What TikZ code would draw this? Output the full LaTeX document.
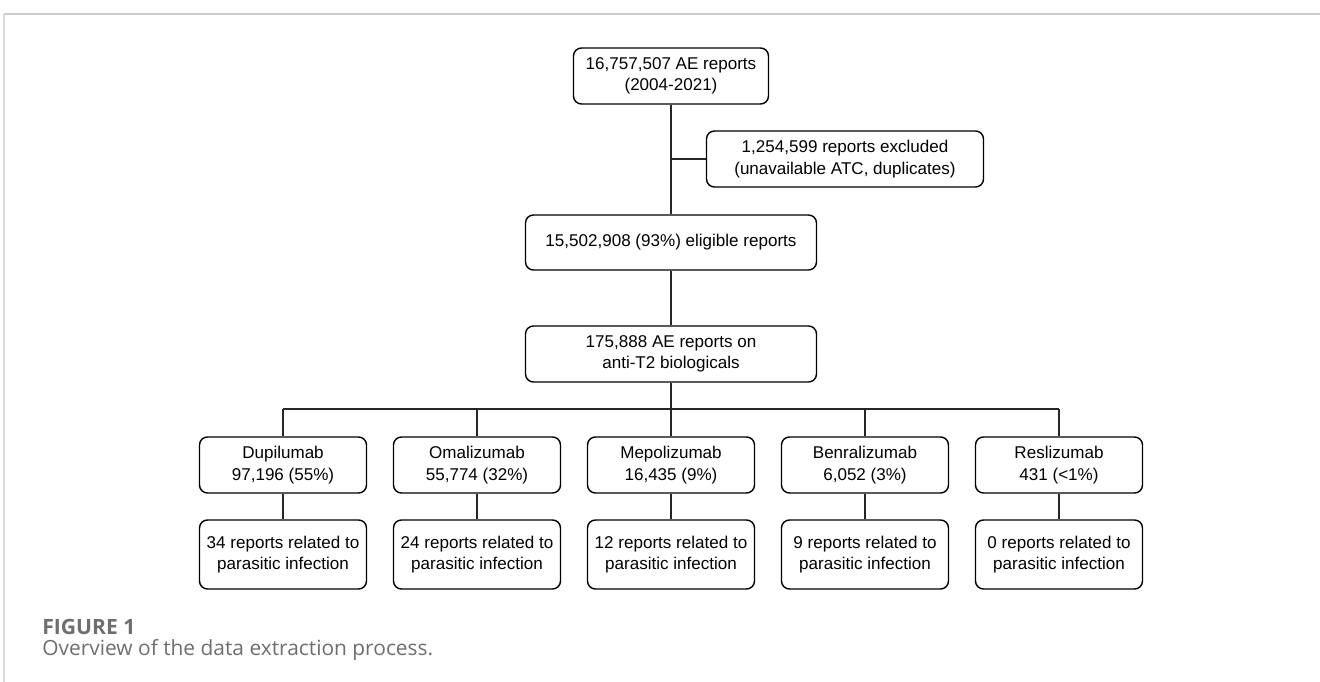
\documentclass[tikz,border=0pt]{standalone}
\usepackage{fontspec}
\setmainfont{Liberation Sans}
\newfontfamily\capfont{Open Sans}
\definecolor{framegray}{HTML}{CCCCCC}
\definecolor{capgray}{HTML}{6E6E6E}
\begin{document}
\begin{tikzpicture}[x=0.02cm, y=-0.02cm,
    box/.style={draw, rounded corners=4.5pt, line width=0.8pt, align=center,
        font=\fontsize{9.7}{12.3}\selectfont, inner sep=0pt, minimum height=1.12cm},
    drug/.style={box, minimum width=3.34cm},
    link/.style={line width=0.8pt, draw=black!85}]
        \useasboundingbox (0,0) rectangle (1320,682);
        % frame of the figure
        \draw [framegray, line width=1.4pt] (4,14) -- (1320,14);
        \draw [framegray!70, line width=0.6pt] (4,14) -- (4,682);

        \node [box, minimum width=3.9cm] at (671,76) (total) {16,757,507 AE reports\\(2004-2021)};
        \node [box, minimum width=5.54cm] at (845,159) (excl) {1,254,599 reports excluded\\(unavailable ATC, duplicates)};
        \node [box, minimum width=5.82cm, minimum height=1.1cm] at (671,242.5) (elig) {15,502,908 (93\%) eligible reports};
        \node [box, minimum width=5.82cm] at (671,354) (anti) {175,888 AE reports on\\anti-T2 biologicals};
        \coordinate (bus) at (671,409);

        \node [drug] at (283,465) (dupi) {Dupilumab\\97,196 (55\%)};
        \node [drug] at (477,465) (omal) {Omalizumab\\55,774 (32\%)};
        \node [drug] at (671,465) (mepo) {Mepolizumab\\16,435 (9\%)};
        \node [drug] at (865,465) (benr) {Benralizumab\\6,052 (3\%)};
        \node [drug] at (1059,465) (resl) {Reslizumab\\431 (<1\%)};

        \node [drug, minimum height=1.38cm] at (283,554.5) (dupiP) {34 reports related to\\parasitic infection};
        \node [drug, minimum height=1.38cm] at (477,554.5) (omalP) {24 reports related to\\parasitic infection};
        \node [drug, minimum height=1.38cm] at (671,554.5) (mepoP) {12 reports related to\\parasitic infection};
        \node [drug, minimum height=1.38cm] at (865,554.5) (benrP) {9 reports related to\\parasitic infection};
        \node [drug, minimum height=1.38cm] at (1059,554.5) (reslP) {0 reports related to\\parasitic infection};

        \draw [link] (total) -- (elig);
        \draw [link] (excl.west) -- (excl.west -| total);
        \draw [link] (elig) -- (anti);
        \draw [link] (anti) -- (bus);
        \draw [link] (dupi.north |- bus) -- (resl.north |- bus);
        \foreach \d in {dupi, omal, mepo, benr, resl} {
            \draw [link] (\d.north) -- (\d.north |- bus);
            \draw [link] (\d) -- (\d P);
        }

        % caption
        \node [anchor=base west, inner sep=0pt, text=capgray, font=\capfont\fontsize{12}{14}\selectfont\bfseries] at (42,634) (figno) {FIGURE 1};
        \node [anchor=base west, inner sep=0pt, text=capgray, font=\capfont\fontsize{11.9}{14}\selectfont] at (42,655) (captxt) {Overview of the data extraction process.};
\end{tikzpicture}
\end{document}
